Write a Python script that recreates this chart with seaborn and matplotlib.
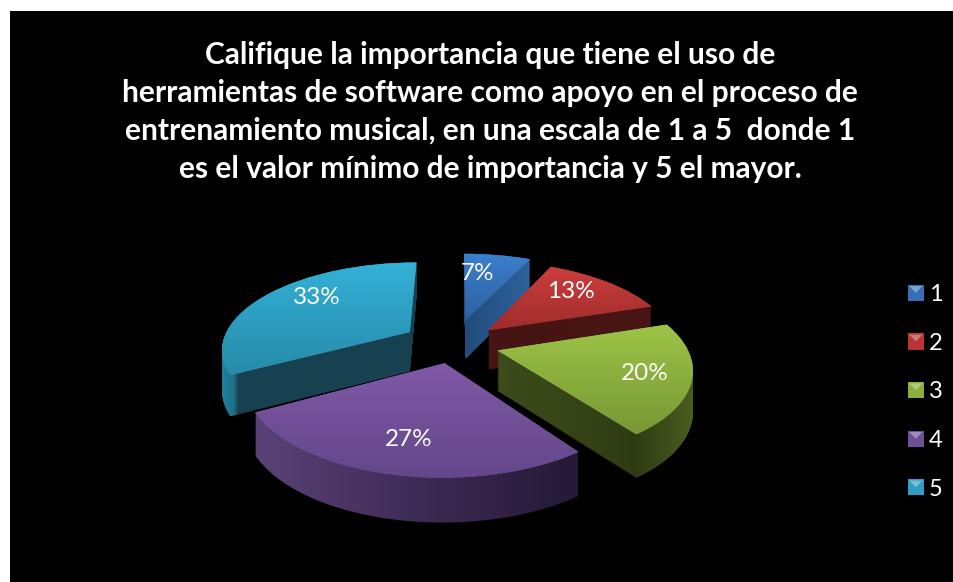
import numpy as np
import seaborn as sns
import matplotlib
matplotlib.use('Agg')
import matplotlib.pyplot as plt
from matplotlib.colors import LinearSegmentedColormap
from matplotlib.legend_handler import HandlerBase
from matplotlib.patches import Patch, Polygon, Rectangle
from matplotlib.path import Path
from matplotlib.transforms import Transform

# Chart data
categories = ['1', '2', '3', '4', '5']
percent_values = [7, 13, 20, 27, 33]
title_lines = [
    'Califique la importancia que tiene el uso de',
    'herramientas de software como apoyo en el proceso de',
    'entrenamiento musical, en una escala de 1 a 5  donde 1',
    'es el valor mínimo de importancia y 5 el mayor.',
]

# Styling per slice
base_colors = ['#3570b5', '#b83533', '#8bae3f', '#6f4f96', '#2e9fc2']
explode = [0.30, 0.25, 0.24, 0.22, 0.28]
top_shades = [('#3b7fcd', '#2d619f'), ('#cb3f3c', '#a02c2b'), ('#9dc447', '#779735'),
              ('#8059a8', '#64468a'), ('#33b1d8', '#288aa9')]
side_shades = [[(0, '#224b7b'), (1, '#2d629a')],
               [(0, '#451413'), (1, '#4a1615')],
               [(0, '#3d4c1b'), (0.7, '#2f3c13'), (1, '#4b5f20')],
               [(0, '#5a4276'), (0.5, '#3e2b56'), (1, '#241936')],
               [(0, '#1f829f'), (0.07, '#1f7088'), (0.09, '#174150'), (1, '#174150')]]
draw_order = [0, 1, 4, 2, 3]
label_spots = [(478, 274), (571, 292), (645, 374), (409, 440), (317, 298)]


# The pie lies on a tilted plane, so the back looks smaller than the front
class TiltTransform(Transform):
    input_dims = 2
    output_dims = 2
    is_separable = False

    def __init__(self, drop=0):
        super().__init__()
        self.drop = drop

    def transform_non_affine(self, values):
        xy = np.asarray(values)
        w = 1 + 0.18 * xy[:, 1]
        px = 454 + 188 * xy[:, 0] / w
        py = 344 - 86 * xy[:, 1] / w + self.drop * (1 - 0.1 * xy[:, 1])
        return np.column_stack((px, py))


class BevelHandler(HandlerBase):
    def create_artists(self, legend, orig_handle, xdescent, ydescent, width, height, fontsize, trans):
        square = Rectangle((-xdescent, -ydescent), width, height, facecolor=orig_handle.get_facecolor(),
                           edgecolor='none', transform=trans)
        light = Polygon([(-xdescent + 1, height - ydescent - 1), (width - xdescent - 1, height - ydescent - 1),
                         (width / 2 - xdescent, height / 2 - ydescent)],
                        facecolor='white', alpha=0.35, edgecolor='none', transform=trans)
        return [square, light]


sns.set_theme(style='dark', rc={'figure.facecolor': 'white', 'axes.facecolor': 'black'})
plt.rcParams['font.family'] = ['Lato', 'DejaVu Sans']

fig = plt.figure(figsize=(9.54, 5.82), dpi=100)
ax = fig.add_axes([10 / 954, 0, 944 / 954, 571 / 582])

wedges, _, autotexts = ax.pie(percent_values, explode=explode, startangle=90, counterclock=False,
                              colors=sns.color_palette(base_colors), autopct='%.0f%%',
                              wedgeprops={'linewidth': 0},
                              textprops={'color': 'white', 'fontsize': 17.5, 'ha': 'center', 'va': 'center'})

for i, wedge in enumerate(wedges):
    level = draw_order.index(i) * 10 + 2
    top_path = TiltTransform().transform_path(wedge.get_path())
    side_path = Path.make_compound_path(*[TiltTransform(d).transform_path(wedge.get_path()) for d in range(41)])

    # side faces first, then the top face over them
    x0, y0 = side_path.vertices.min(axis=0)
    x1, y1 = side_path.vertices.max(axis=0)
    side_map = LinearSegmentedColormap.from_list('side%d' % i, side_shades[i])
    side_im = ax.imshow(np.linspace(0, 1, 256)[None, :], extent=(x0, x1, y1, y0), cmap=side_map,
                        aspect='auto', zorder=level)
    side_im.set_clip_path(side_path, ax.transData)

    wedge.set_transform(TiltTransform() + ax.transData)
    wedge.set_zorder(level + 1)

    x0, y0 = top_path.vertices.min(axis=0)
    x1, y1 = top_path.vertices.max(axis=0)
    top_map = LinearSegmentedColormap.from_list('top%d' % i, top_shades[i])
    top_im = ax.imshow(np.linspace(0, 1, 256)[:, None], extent=(x0, x1, y1, y0), cmap=top_map,
                       aspect='auto', zorder=level + 2)
    top_im.set_clip_path(top_path, ax.transData)

    autotexts[i].set_position(label_spots[i])
    autotexts[i].set_zorder(100)

ax.set_xlim(10, 954)
ax.set_ylim(582, 11)
ax.set_aspect('auto')
ax.set_frame_on(True)
sns.despine(ax=ax, left=True, bottom=True)

fig.text(490 / 954, 1 - 112 / 582, '\n'.join(title_lines), color='white', fontsize=21.5, fontweight='bold',
         ha='center', va='center', linespacing=1.43)

handles = [Patch(facecolor=c, label=name) for c, name in zip(base_colors, categories)]
ax.legend(handles=handles, handler_map={Patch: BevelHandler()}, loc='center left',
          bbox_to_anchor=(0.951, 0.333), frameon=False, labelcolor='white', fontsize=17,
          handlelength=0.68, handleheight=0.68, handletextpad=0.2, labelspacing=1.17, borderpad=0, borderaxespad=0)

fig.savefig('out.png', dpi=100)
